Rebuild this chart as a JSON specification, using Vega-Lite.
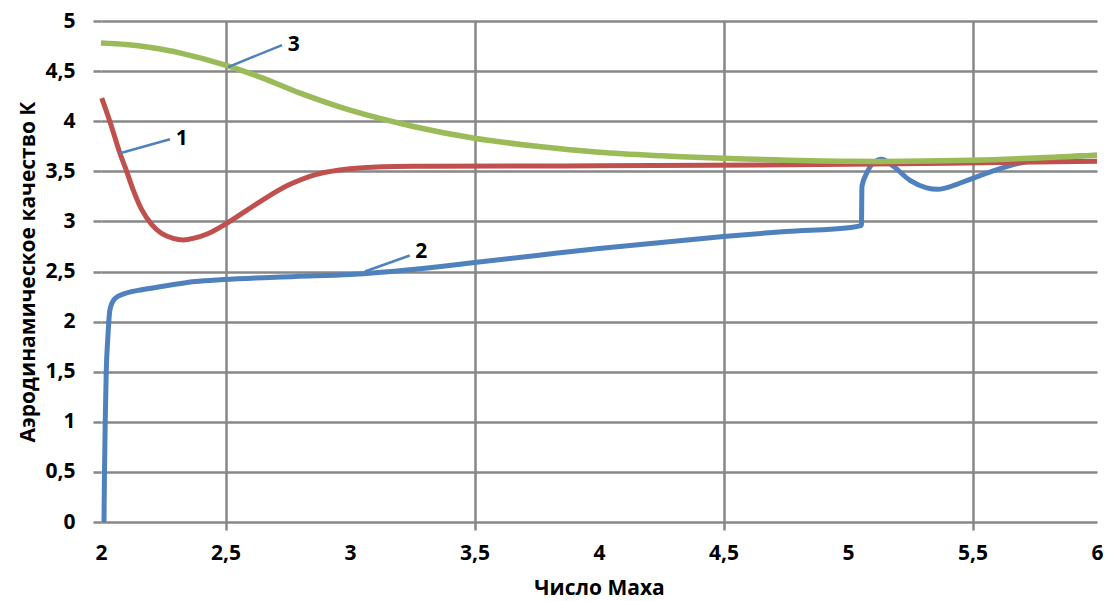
{
  "$schema": "https://vega.github.io/schema/vega-lite/v6.json",
  "autosize": "none",
  "width": 996,
  "height": 501,
  "padding": {"left": 101, "top": 21, "right": 9, "bottom": 79},
  "background": "white",
  "config": {
    "view": {"stroke": null},
    "font": "Open Sans"
  },
  "datasets": {
    "curves": [
      {"s": "2", "M": 2.012, "K": 0.0},
      {"s": "2", "M": 2.014, "K": 0.5},
      {"s": "2", "M": 2.017, "K": 1.0},
      {"s": "2", "M": 2.021, "K": 1.5},
      {"s": "2", "M": 2.027, "K": 1.82},
      {"s": "2", "M": 2.036, "K": 2.12},
      {"s": "2", "M": 2.056, "K": 2.23},
      {"s": "2", "M": 2.096, "K": 2.28},
      {"s": "2", "M": 2.17, "K": 2.32},
      {"s": "2", "M": 2.243, "K": 2.35},
      {"s": "2", "M": 2.378, "K": 2.4},
      {"s": "2", "M": 2.491, "K": 2.42},
      {"s": "2", "M": 2.78, "K": 2.45},
      {"s": "2", "M": 3.0, "K": 2.47},
      {"s": "2", "M": 3.25, "K": 2.52},
      {"s": "2", "M": 3.5, "K": 2.59},
      {"s": "2", "M": 3.75, "K": 2.66},
      {"s": "2", "M": 4.0, "K": 2.73},
      {"s": "2", "M": 4.25, "K": 2.79},
      {"s": "2", "M": 4.5, "K": 2.85},
      {"s": "2", "M": 4.75, "K": 2.9},
      {"s": "2", "M": 5.012, "K": 2.94},
      {"s": "2", "M": 5.054, "K": 2.96},
      {"s": "2", "M": 5.056, "K": 3.35},
      {"s": "2", "M": 5.075, "K": 3.48},
      {"s": "2", "M": 5.1, "K": 3.58},
      {"s": "2", "M": 5.135, "K": 3.62},
      {"s": "2", "M": 5.182, "K": 3.55},
      {"s": "2", "M": 5.249, "K": 3.41},
      {"s": "2", "M": 5.316, "K": 3.335},
      {"s": "2", "M": 5.36, "K": 3.32},
      {"s": "2", "M": 5.437, "K": 3.37},
      {"s": "2", "M": 5.49, "K": 3.42},
      {"s": "2", "M": 5.64, "K": 3.55},
      {"s": "2", "M": 5.77, "K": 3.62},
      {"s": "2", "M": 6.0, "K": 3.66},
      {"s": "1", "M": 2.003, "K": 4.23},
      {"s": "1", "M": 2.036, "K": 3.995},
      {"s": "1", "M": 2.076, "K": 3.68},
      {"s": "1", "M": 2.103, "K": 3.5},
      {"s": "1", "M": 2.13, "K": 3.31},
      {"s": "1", "M": 2.163, "K": 3.12},
      {"s": "1", "M": 2.203, "K": 2.97},
      {"s": "1", "M": 2.243, "K": 2.88},
      {"s": "1", "M": 2.29, "K": 2.83},
      {"s": "1", "M": 2.33, "K": 2.815},
      {"s": "1", "M": 2.37, "K": 2.83},
      {"s": "1", "M": 2.431, "K": 2.88},
      {"s": "1", "M": 2.491, "K": 2.96},
      {"s": "1", "M": 2.585, "K": 3.11},
      {"s": "1", "M": 2.679, "K": 3.26},
      {"s": "1", "M": 2.759, "K": 3.37},
      {"s": "1", "M": 2.866, "K": 3.47},
      {"s": "1", "M": 3.0, "K": 3.525},
      {"s": "1", "M": 3.133, "K": 3.545},
      {"s": "1", "M": 3.32, "K": 3.55},
      {"s": "1", "M": 4.0, "K": 3.555},
      {"s": "1", "M": 5.0, "K": 3.57},
      {"s": "1", "M": 6.0, "K": 3.6},
      {"s": "3", "M": 2.0, "K": 4.78},
      {"s": "3", "M": 2.1, "K": 4.765},
      {"s": "3", "M": 2.2, "K": 4.735},
      {"s": "3", "M": 2.32, "K": 4.68},
      {"s": "3", "M": 2.5, "K": 4.56},
      {"s": "3", "M": 2.65, "K": 4.43},
      {"s": "3", "M": 2.8, "K": 4.28},
      {"s": "3", "M": 3.0, "K": 4.11},
      {"s": "3", "M": 3.25, "K": 3.95},
      {"s": "3", "M": 3.5, "K": 3.83},
      {"s": "3", "M": 3.75, "K": 3.75},
      {"s": "3", "M": 4.0, "K": 3.69},
      {"s": "3", "M": 4.25, "K": 3.655},
      {"s": "3", "M": 4.5, "K": 3.63},
      {"s": "3", "M": 5.0, "K": 3.6},
      {"s": "3", "M": 5.5, "K": 3.61},
      {"s": "3", "M": 6.0, "K": 3.66}
    ],
    "labels": [
      {"t": "1", "M1": 2.076, "K1": 3.68, "M2": 2.277, "K2": 3.82, "Mt": 2.3, "Kt": 3.82},
      {"t": "2", "M1": 3.06, "K1": 2.5, "M2": 3.24, "K2": 2.66, "Mt": 3.262, "Kt": 2.69},
      {"t": "3", "M1": 2.51, "K1": 4.54, "M2": 2.727, "K2": 4.76, "Mt": 2.75, "Kt": 4.76}
    ]
  },
  "layer": [
    {
      "data": {"name": "curves"},
      "transform": [{"filter": "datum.s == '2'"}],
      "mark": {"type": "line", "color": "#4f81bd", "strokeWidth": 5, "interpolate": "monotone"},
      "encoding": {
        "x": {
          "field": "M", "type": "quantitative",
          "scale": {"domain": [2, 6], "nice": false, "zero": false},
          "axis": {
            "title": "Число Маха",
            "values": [2, 2.5, 3, 3.5, 4, 4.5, 5, 5.5, 6],
            "labelExpr": "replace(format(datum.value, '~g'), '.', ',')",
            "domain": false,
            "grid": true,
            "gridColor": {"condition": {"test": "datum.value % 1 == 0.5", "value": "#878787"}, "value": "transparent"},
            "gridWidth": 2.5,
            "ticks": true,
            "tickSize": 8,
            "tickWidth": 2.5,
            "tickColor": {"condition": {"test": "datum.value % 1 == 0.5", "value": "#878787"}, "value": "transparent"},
            "labelPadding": 12,
            "labelFont": "Open Sans",
            "labelFontWeight": "bold",
            "labelFontSize": 21,
            "labelColor": "#000000",
            "labelFlush": false,
            "labelOverlap": false,
            "titleFont": "Open Sans",
            "titleFontWeight": "bold",
            "titleFontSize": 21,
            "titleColor": "#000000",
            "titleY": 66,
            "titleBaseline": "middle"
          }
        },
        "y": {
          "field": "K", "type": "quantitative",
          "scale": {"domain": [0, 5], "nice": false},
          "axis": {
            "title": "Аэродинамическое качество К",
            "values": [0, 0.5, 1, 1.5, 2, 2.5, 3, 3.5, 4, 4.5, 5],
            "labelExpr": "replace(format(datum.value, '~g'), '.', ',')",
            "domain": false,
            "grid": true,
            "gridColor": "#878787",
            "gridWidth": 2.5,
            "ticks": true,
            "tickSize": 8,
            "tickWidth": 2.5,
            "tickColor": "#878787",
            "labelPadding": 18,
            "labelFont": "Open Sans",
            "labelFontWeight": "bold",
            "labelFontSize": 21,
            "labelColor": "#000000",
            "labelFlush": false,
            "labelOverlap": false,
            "titleFont": "Open Sans",
            "titleFontWeight": "bold",
            "titleFontSize": 21,
            "titleColor": "#000000",
            "titleX": -73,
            "titleBaseline": "middle"
          }
        }
      }
    },
    {
      "data": {"name": "curves"},
      "transform": [{"filter": "datum.s == '1'"}],
      "mark": {"type": "line", "color": "#c0504d", "strokeWidth": 5, "interpolate": "catmull-rom"},
      "encoding": {
        "x": {"field": "M", "type": "quantitative"},
        "y": {"field": "K", "type": "quantitative"}
      }
    },
    {
      "data": {"name": "curves"},
      "transform": [{"filter": "datum.s == '3'"}],
      "mark": {"type": "line", "color": "#9bbb59", "strokeWidth": 5.5, "interpolate": "catmull-rom"},
      "encoding": {
        "x": {"field": "M", "type": "quantitative"},
        "y": {"field": "K", "type": "quantitative"}
      }
    },
    {
      "data": {"name": "labels"},
      "mark": {"type": "rule", "color": "#4f81bd", "strokeWidth": 2.5},
      "encoding": {
        "x": {"field": "M1", "type": "quantitative"},
        "y": {"field": "K1", "type": "quantitative"},
        "x2": {"field": "M2"},
        "y2": {"field": "K2"}
      }
    },
    {
      "data": {"name": "labels"},
      "mark": {"type": "text", "font": "Open Sans", "fontWeight": "bold", "fontSize": 21, "color": "#000000", "align": "left", "baseline": "middle"},
      "encoding": {
        "x": {"field": "Mt", "type": "quantitative"},
        "y": {"field": "Kt", "type": "quantitative"},
        "text": {"field": "t"}
      }
    }
  ]
}
